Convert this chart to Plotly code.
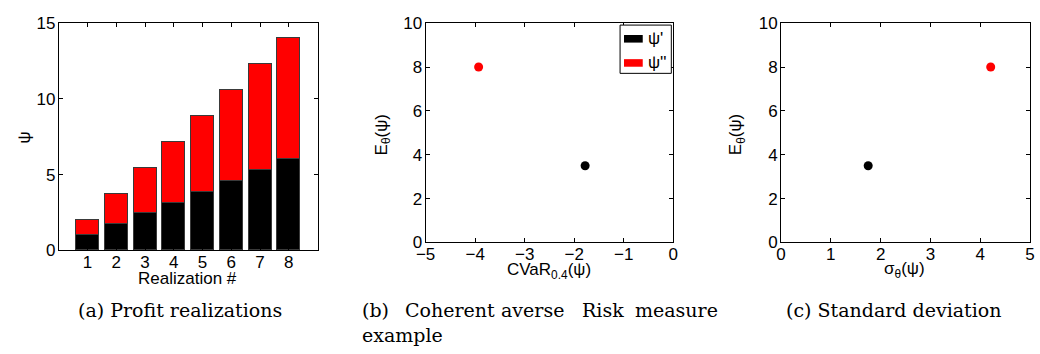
import plotly.graph_objects as go

# ---- data ----
realizations = [1, 2, 3, 4, 5, 6, 7, 8]
psi1_profit = [1.0, 1.71, 2.43, 3.14, 3.86, 4.57, 5.29, 6.0]   # black (psi')
psi2_profit = [1, 2, 3, 4, 5, 6, 7, 8]                           # red stacked (psi'')
series_names = ["ψ'", "ψ''"]
cvar_vals = [-1.78, -3.93]
mean_vals = [3.5, 8.0]
std_vals = [1.75, 4.21]
colors = ["#000000", "#ff0000"]

W, H = 1040, 354
def px(x): return x / W
def py(y): return 1 - y / H

fig = go.Figure()

edge = dict(color="#3a3a3a", width=1)
fig.add_trace(go.Bar(x=realizations, y=psi1_profit, marker=dict(color=colors[0], line=edge),
                     width=0.8, xaxis="x", yaxis="y", showlegend=False))
fig.add_trace(go.Bar(x=realizations, y=psi2_profit, marker=dict(color=colors[1], line=edge),
                     width=0.8, xaxis="x", yaxis="y", showlegend=False))

for i in range(2):
    fig.add_trace(go.Scatter(x=[cvar_vals[i]], y=[mean_vals[i]], mode="markers",
                             marker=dict(color=colors[i], size=9), xaxis="x2", yaxis="y2",
                             showlegend=False))
    fig.add_trace(go.Scatter(x=[std_vals[i]], y=[mean_vals[i]], mode="markers",
                             marker=dict(color=colors[i], size=9), xaxis="x3", yaxis="y3",
                             showlegend=False))

tickfont = dict(family="Liberation Sans, Arial, sans-serif", size=17, color="black")
common = dict(showline=True, linecolor="black", linewidth=1, mirror="ticks", ticks="inside",
              ticklen=4, tickcolor="black", showgrid=False, zeroline=False, tickfont=tickfont)
xcommon = dict(common, ticklabelstandoff=-4)
ycommon = dict(common, ticklabelstandoff=-1)

fig.update_layout(
    width=W, height=H, margin=dict(l=0, r=0, t=0, b=0),
    paper_bgcolor="white", plot_bgcolor="white", barmode="stack", bargap=0,
    xaxis=dict(domain=[px(49.5), px(312)], range=[0, 9], tickvals=realizations,
               anchor="y", **xcommon),
    yaxis=dict(domain=[py(255), py(15)], range=[0, 15], tickvals=[0, 5, 10, 15],
               anchor="x", **ycommon),
    xaxis2=dict(domain=[px(421.7), px(673)], range=[-5, 0], tickvals=[-5, -4, -3, -2, -1, 0],
                anchor="y2", **xcommon),
    yaxis2=dict(domain=[py(246.7), py(15)], range=[0, 10], tickvals=[0, 2, 4, 6, 8, 10],
                anchor="x2", **ycommon),
    xaxis3=dict(domain=[px(782.3), px(1035)], range=[0, 5], tickvals=[0, 1, 2, 3, 4, 5],
                anchor="y3", **xcommon),
    yaxis3=dict(domain=[py(246.7), py(15)], range=[0, 10], tickvals=[0, 2, 4, 6, 8, 10],
                anchor="x3", **ycommon),
)

ann = []
lab = dict(family="Liberation Sans, Arial, sans-serif", size=17, color="black")
def A(x, y, text, font, xanchor="center", angle=0):
    ann.append(dict(x=px(x), y=py(y), xref="paper", yref="paper", text=text, showarrow=False,
                    font=font, xanchor=xanchor, yanchor="middle", textangle=angle))

A(180, 285, "Realization #", lab)
A(15, 136, "ψ", lab, angle=-90)
A(547, 277, "CVaR<sub>0.4</sub>(ψ)", lab)
A(378, 133, "E<sub>θ</sub>(ψ)", lab, angle=-90)
A(908, 276, "σ<sub>θ</sub>(ψ)", lab)
A(738, 133, "E<sub>θ</sub>(ψ)", lab, angle=-90)

cap = dict(family="DejaVu Serif, serif", size=19, color="black")
A(172.5, 318, "(a) Profit realizations", cap)
A(896, 318, "(c) Standard deviation", cap)
words = [("(b)", 355), ("Coherent", 399), ("averse", 496), ("Risk", 578), ("measure", 632)]
for w, x in words:
    A(x, 318, w, cap, xanchor="left")
A(355, 344, "example", cap, xanchor="left")

# legend (panel b)
shapes = [dict(type="rect", xref="paper", yref="paper", x0=px(619), x1=px(671), y0=py(68), y1=py(17),
               line=dict(color="black", width=1), fillcolor="white")]
for i, yc in enumerate([31.5, 57]):
    shapes.append(dict(type="rect", xref="paper", yref="paper", x0=px(623), x1=px(642),
                       y0=py(yc + 4), y1=py(yc - 4), line=dict(width=0), fillcolor=colors[i]))
    A(645, yc, series_names[i], lab, xanchor="left")

fig.update_layout(annotations=ann, shapes=shapes)
fig.write_html("out.html", config={"displayModeBar": False},
               post_script="document.body.style.margin='0';document.body.style.overflow='hidden';")
